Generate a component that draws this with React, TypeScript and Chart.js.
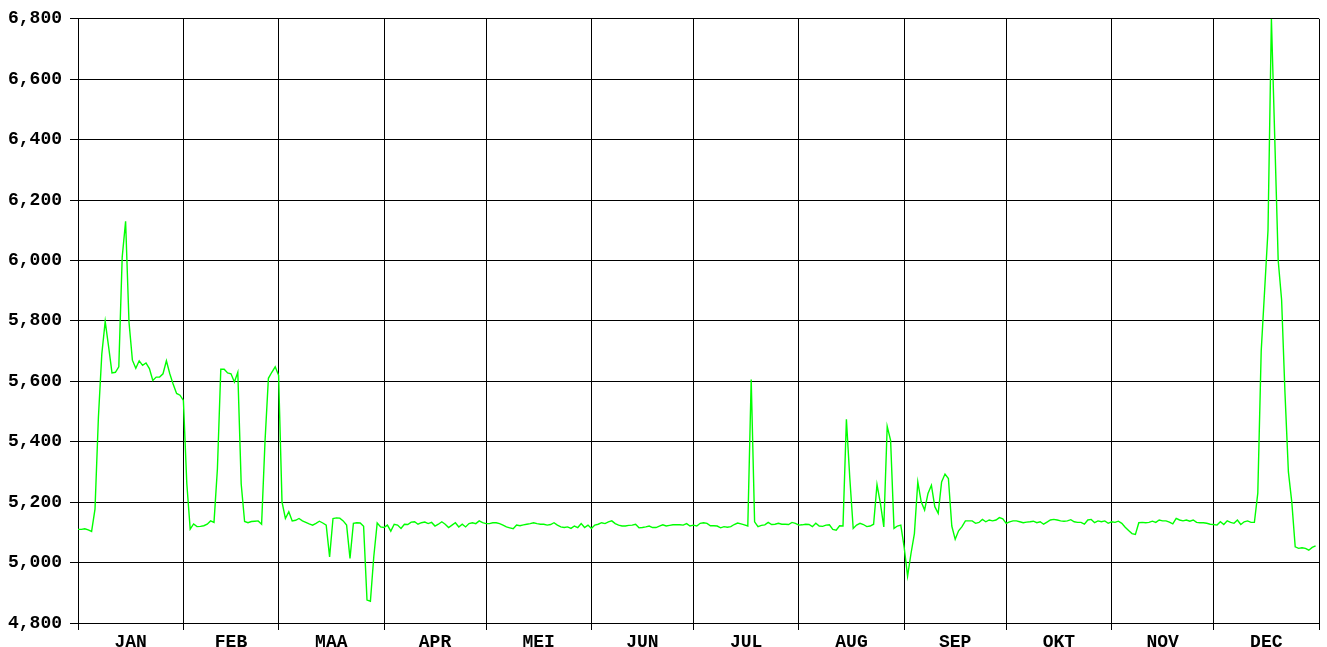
import { useEffect, useRef } from "react";
import { Chart, registerables } from "chart.js";

Chart.register(...registerables);

const monthLabels = ["JAN", "FEB", "MAA", "APR", "MEI", "JUN", "JUL", "AUG", "SEP", "OKT", "NOV", "DEC"];
const monthStarts = [0, 31, 59, 90, 120, 151, 181, 212, 243, 273, 304, 334, 365];
const yMin = 4800;
const yMax = 6800;
const yStep = 200;

const jan = [5110, 5110, 5112, 5108, 5103, 5177, 5480, 5690, 5798, 5715, 5628, 5630, 5648, 6011, 6130, 5796, 5670, 5643, 5668, 5653, 5661, 5642, 5603, 5614, 5614, 5625, 5668, 5625, 5590, 5560, 5554];
const feb = [5537, 5262, 5111, 5128, 5119, 5120, 5122, 5127, 5138, 5133, 5310, 5640, 5640, 5628, 5625, 5598, 5630, 5260, 5136, 5132, 5136, 5137, 5138, 5127, 5400, 5610, 5630, 5648];
const maa = [5620, 5201, 5146, 5168, 5138, 5140, 5146, 5138, 5133, 5128, 5124, 5130, 5137, 5131, 5124, 5019, 5146, 5148, 5147, 5138, 5124, 5014, 5130, 5132, 5131, 5120, 4876, 4872, 5020, 5131, 5118];
const apr = [5116, 5124, 5104, 5127, 5124, 5113, 5127, 5126, 5134, 5135, 5127, 5132, 5134, 5129, 5133, 5121, 5127, 5135, 5127, 5116, 5124, 5132, 5118, 5127, 5118, 5129, 5132, 5129, 5138, 5132];
const mei = [5129, 5129, 5132, 5132, 5129, 5124, 5118, 5115, 5112, 5124, 5122, 5125, 5127, 5129, 5132, 5129, 5127, 5127, 5124, 5126, 5132, 5124, 5118, 5116, 5118, 5113, 5121, 5116, 5129, 5116, 5124];
const jun = [5113, 5124, 5127, 5132, 5129, 5135, 5138, 5129, 5124, 5121, 5121, 5123, 5124, 5127, 5115, 5116, 5118, 5121, 5116, 5116, 5121, 5125, 5121, 5123, 5125, 5125, 5125, 5124, 5129, 5121];
const jul = [5124, 5121, 5130, 5132, 5130, 5122, 5122, 5121, 5115, 5119, 5117, 5119, 5126, 5131, 5128, 5125, 5121, 5606, 5135, 5119, 5123, 5125, 5133, 5126, 5127, 5130, 5127, 5127, 5126, 5133, 5130];
const aug = [5124, 5125, 5127, 5126, 5119, 5130, 5121, 5120, 5124, 5125, 5110, 5107, 5122, 5121, 5474, 5280, 5113, 5124, 5130, 5126, 5119, 5121, 5127, 5258, 5196, 5118, 5451, 5405, 5113, 5121, 5124];
const sep = [5050, 4955, 5030, 5096, 5267, 5201, 5174, 5229, 5256, 5185, 5163, 5267, 5293, 5278, 5121, 5077, 5105, 5119, 5138, 5138, 5138, 5130, 5133, 5143, 5135, 5141, 5138, 5141, 5149, 5145];
const okt = [5130, 5135, 5138, 5138, 5135, 5132, 5134, 5135, 5137, 5132, 5135, 5127, 5134, 5141, 5143, 5141, 5138, 5137, 5138, 5142, 5135, 5133, 5133, 5127, 5141, 5143, 5132, 5138, 5135, 5138, 5130];
const nov = [5135, 5133, 5137, 5130, 5117, 5106, 5096, 5093, 5132, 5133, 5132, 5133, 5137, 5133, 5141, 5138, 5138, 5134, 5128, 5146, 5141, 5138, 5141, 5137, 5141, 5133, 5132, 5132, 5130, 5127];
const dec = [5126, 5124, 5135, 5126, 5138, 5133, 5130, 5141, 5126, 5135, 5138, 5133, 5133, 5230, 5700, 5900, 6100, 6800, 6400, 6000, 5870, 5560, 5300, 5200, 5052, 5047, 5049, 5047, 5041, 5050, 5055];

const font = { family: "'Liberation Mono', 'Courier New', monospace", size: 18, weight: "bold" as const };

export default function App() {
  const ref = useRef<HTMLCanvasElement>(null);

  useEffect(() => {
    const values = [...jan, ...feb, ...maa, ...apr, ...mei, ...jun, ...jul, ...aug, ...sep, ...okt, ...nov, ...dec];
    const points = values.map((v, i) => ({ x: i, y: v }));
    const mids = monthLabels.map((_, i) => (monthStarts[i] + monthStarts[i + 1]) / 2);

    const chart = new Chart(ref.current as HTMLCanvasElement, {
      type: "line",
      data: {
        datasets: [
          {
            data: points,
            borderColor: "#00ff00",
            borderWidth: 1.4,
            pointRadius: 0,
            tension: 0,
            fill: false,
          },
        ],
      },
      options: {
        animation: false,
        responsive: false,
        maintainAspectRatio: false,
        layout: { padding: { left: 8, top: 18, right: 8, bottom: 0 } },
        plugins: { legend: { display: false }, tooltip: { enabled: false } },
        scales: {
          x: {
            type: "linear",
            min: 0,
            max: 365,
            afterBuildTicks: (axis: any) => {
              axis.ticks = [...monthStarts, ...mids].sort((a, b) => a - b).map((v) => ({ value: v }));
            },
            afterFit: (axis: any) => {
              axis.height = 24;
            },
            grid: {
              color: (ctx: any) => (ctx.tick && monthStarts.includes(ctx.tick.value) ? "#000" : "rgba(0,0,0,0)"),
              lineWidth: 1,
              tickLength: 7,
            },
            border: { display: true, color: "#000" },
            ticks: {
              autoSkip: false,
              maxRotation: 0,
              minRotation: 0,
              padding: 2,
              color: "#000",
              font,
              callback: (value: any) => {
                const i = mids.indexOf(Number(value));
                return i >= 0 ? monthLabels[i] : "";
              },
            },
          },
          y: {
            min: yMin,
            max: yMax,
            afterFit: (axis: any) => {
              axis.width = 70;
            },
            grid: { color: "#000", lineWidth: 1, tickLength: 8 },
            border: { display: true, color: "#000" },
            ticks: {
              stepSize: yStep,
              padding: 8,
              color: "#000",
              font,
              callback: (value: any) => Number(value).toLocaleString("en-US"),
            },
          },
        },
      },
    });
    return () => chart.destroy();
  }, []);

  return (
    <div style={{ position: "fixed", left: 0, top: 0, width: 1327, height: 647, background: "#fff" }}>
      <canvas ref={ref} width={1327} height={647} style={{ display: "block" }} />
    </div>
  );
}
